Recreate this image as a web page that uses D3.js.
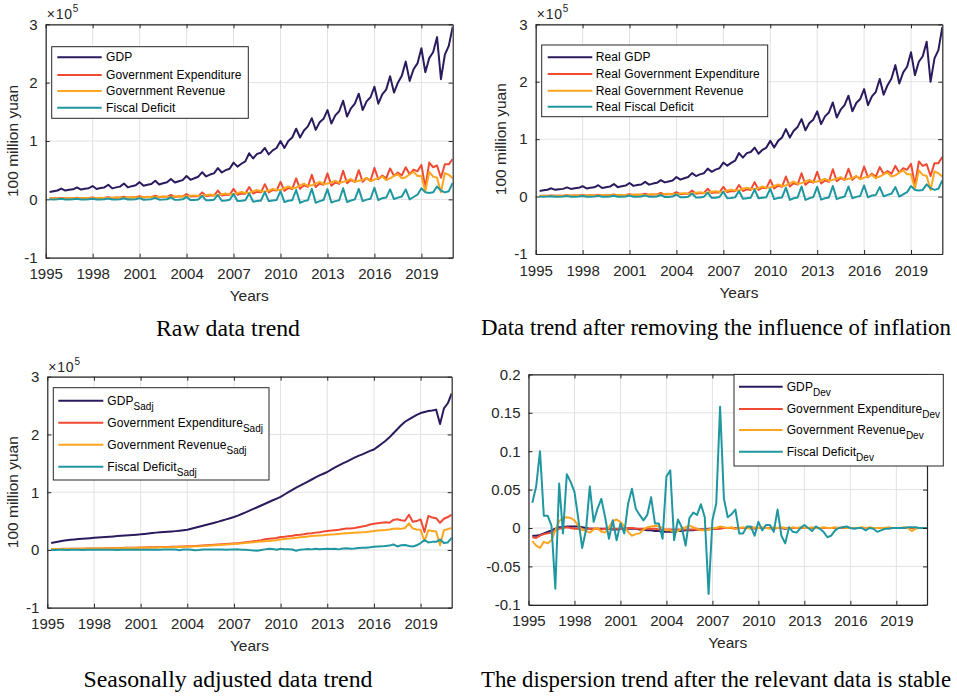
<!DOCTYPE html>
<html><head><meta charset="utf-8">
<script src="https://cdn.jsdelivr.net/npm/d3@7"></script>
<style>body{margin:0;background:#fff}svg{display:block}</style>
</head><body>
<svg id="c" width="957" height="698"></svg>
<script>
// ---------- tick labels / categories ----------
const yearTicks = [1995,1998,2001,2004,2007,2010,2013,2016,2019];
const levelTicks = [-1,0,1,2,3];
const devTicks = [-0.1,-0.05,0,0.05,0.1,0.15,0.2];
const baseNames = ['GDP','Government Expenditure','Government Revenue','Fiscal Deficit'];
const realNames = ['Real GDP','Real Government Expenditure','Real Government Revenue','Real Fiscal Deficit'];
const captions = ['Raw data trend','Data trend after removing the influence of inflation','Seasonally adjusted data trend','The dispersion trend after the relevant data is stable'];

// ---------- quarterly series 1995Q1 .. 2020Q4 (x10^5 100 million yuan) ----------
const rawGDP = [.125,.140,.152,.185, .150,.163,.172,.205, .168,.182,.192,.228, .178,.195,.205,.250, .188,.205,.218,.272, .205,.226,.240,.295, .232,.250,.263,.320, .254,.275,.292,.350, .290,.310,.330,.400, .335,.362,.388,.465, .392,.425,.445,.535, .460,.500,.525,.630, .560,.610,.650,.790, .700,.780,.800,.880, .770,.840,.880,1.000, .880,1.000,1.060,1.210, 1.060,1.180,1.250,1.390, 1.190,1.320,1.380,1.530, 1.300,1.440,1.510,1.690, 1.420,1.560,1.640,1.810, 1.530,1.680,1.750,1.930, 1.640,1.800,1.880,2.110, 1.830,2.000,2.120,2.360, 2.030,2.230,2.330,2.590, 2.180,2.420,2.520,2.780, 2.060,2.480,2.630,2.960];
const rawExp = [.016,.017,.017,.025, .018,.019,.020,.028, .020,.022,.023,.032, .021,.025,.026,.038, .024,.030,.030,.045, .028,.034,.035,.052, .032,.040,.040,.062, .037,.044,.044,.075, .041,.048,.049,.090, .047,.055,.055,.120, .055,.066,.065,.150, .065,.080,.078,.180, .080,.100,.095,.210, .100,.130,.120,.260, .120,.160,.150,.300, .145,.195,.175,.360, .180,.240,.215,.420, .210,.270,.250,.445, .235,.290,.265,.490, .275,.330,.300,.500, .300,.365,.320,.540, .345,.410,.360,.530, .405,.460,.410,.550, .430,.510,.480,.590, .200,.630,.550,.580, .370,.600,.600,.690];
const rawRev = [.016,.018,.016,.016, .019,.021,.018,.018, .022,.024,.021,.021, .024,.027,.023,.023, .027,.031,.027,.026, .032,.036,.032,.031, .038,.043,.037,.036, .043,.048,.042,.041, .050,.056,.048,.048, .060,.068,.058,.060, .072,.082,.070,.075, .088,.100,.085,.090, .110,.125,.110,.110, .140,.160,.140,.135, .150,.180,.160,.160, .190,.220,.190,.200, .240,.270,.230,.240, .270,.300,.260,.270, .290,.320,.280,.300, .320,.350,.300,.320, .330,.370,.310,.340, .360,.390,.330,.360, .400,.430,.360,.380, .430,.470,.400,.400, .140,.470,.390,.370, .120,.450,.420,.360];
const rawDef = [.000,-.001,.001,.009, -.001,-.002,.002,.010, -.002,-.002,.002,.011, -.003,-.002,.003,.015, -.003,-.001,.003,.019, -.004,-.002,.003,.021, -.006,-.003,.003,.026, -.006,-.004,.002,.034, -.009,-.008,.001,.042, -.013,-.013,-.003,.060, -.017,-.016,-.005,.075, -.023,-.020,-.007,.090, -.030,-.025,-.015,.100, -.040,-.030,-.020,.125, -.030,-.020,-.010,.140, -.045,-.025,-.015,.160, -.060,-.030,-.015,.180, -.060,-.030,-.010,.175, -.055,-.030,-.015,.190, -.045,-.020,.000,.180, -.030,-.005,.010,.200, -.015,.020,.030,.170, .005,.030,.050,.170, .000,.040,.080,.190, .120,.110,.120,.220, .150,.120,.140,.280];

const realGDP = [.098,.109,.119,.144, .117,.127,.134,.160, .133,.144,.152,.180, .141,.154,.162,.198, .150,.164,.174,.218, .164,.181,.192,.236, .186,.200,.210,.256, .208,.226,.239,.287, .247,.264,.281,.340, .295,.319,.341,.409, .357,.387,.405,.487, .432,.470,.494,.592, .538,.586,.624,.758, .679,.757,.776,.854, .747,.815,.854,.970, .854,.970,1.028,1.174, 1.028,1.145,1.213,1.348, 1.154,1.280,1.339,1.484, 1.261,1.397,1.465,1.639, 1.377,1.513,1.591,1.756, 1.484,1.630,1.698,1.872, 1.591,1.746,1.824,2.047, 1.775,1.940,2.056,2.289, 1.969,2.163,2.260,2.512, 2.115,2.347,2.444,2.697, 1.998,2.406,2.551,2.950];
const realExp = [.012,.013,.013,.020, .014,.015,.016,.022, .016,.017,.018,.025, .017,.020,.021,.030, .019,.024,.024,.036, .022,.027,.028,.042, .026,.032,.032,.050, .030,.036,.036,.062, .035,.041,.042,.077, .041,.048,.048,.106, .050,.060,.059,.137, .061,.075,.073,.169, .077,.096,.091,.202, .097,.126,.116,.252, .116,.155,.146,.291, .141,.189,.170,.349, .175,.233,.209,.407, .204,.262,.243,.432, .228,.281,.257,.475, .267,.320,.291,.485, .291,.354,.310,.524, .335,.398,.349,.514, .393,.446,.398,.534, .417,.495,.466,.572, .194,.611,.534,.563, .359,.582,.582,.690];
const realRev = [.012,.014,.012,.012, .015,.016,.014,.014, .017,.019,.017,.017, .019,.021,.018,.018, .022,.025,.022,.021, .026,.029,.026,.025, .030,.034,.030,.029, .035,.039,.034,.034, .043,.048,.041,.041, .053,.060,.051,.053, .066,.075,.064,.068, .083,.094,.080,.085, .106,.120,.106,.106, .136,.155,.136,.131, .146,.175,.155,.155, .184,.213,.184,.194, .233,.262,.223,.233, .262,.291,.252,.262, .281,.310,.272,.291, .310,.340,.291,.310, .320,.359,.301,.330, .349,.378,.320,.349, .388,.417,.349,.369, .417,.456,.388,.388, .136,.456,.378,.359, .116,.437,.407,.350];
const realDef = [.000,-.001,.001,.007, -.001,-.002,.002,.008, -.002,-.002,.002,.009, -.002,-.002,.002,.012, -.002,-.001,.002,.015, -.003,-.002,.002,.017, -.005,-.002,.002,.021, -.005,-.003,.002,.028, -.008,-.007,.001,.036, -.011,-.011,-.003,.053, -.015,-.015,-.005,.068, -.022,-.019,-.007,.085, -.029,-.024,-.014,.096, -.039,-.029,-.019,.121, -.029,-.019,-.010,.136, -.044,-.024,-.015,.155, -.058,-.029,-.015,.175, -.058,-.029,-.010,.170, -.053,-.029,-.015,.184, -.044,-.019,.000,.175, -.029,-.005,.010,.194, -.015,.019,.029,.165, .005,.029,.049,.165, .000,.039,.078,.184, .116,.107,.116,.213, .146,.116,.136,.280];

const sadjGDP = [.120,.135,.148,.160, .168,.175,.183,.190, .195,.199,.204,.210, .214,.219,.224,.230, .235,.240,.245,.250, .255,.260,.265,.270, .277,.285,.292,.300, .305,.310,.315,.320, .326,.333,.341,.350, .366,.383,.401,.420, .437,.454,.472,.490, .510,.530,.550,.570, .595,.622,.650,.680, .710,.740,.770,.800, .830,.860,.890,.920, .960,1.000,1.040,1.080, 1.115,1.150,1.185,1.220, 1.255,1.290,1.320,1.350, 1.390,1.430,1.465,1.500, 1.530,1.565,1.600,1.630, 1.655,1.685,1.715,1.740, 1.790,1.840,1.890,1.950, 2.020,2.090,2.160,2.220, 2.260,2.300,2.340,2.370, 2.390,2.405,2.415,2.430, 2.180,2.450,2.540,2.710];
const sadjExp = [.016,.017,.018,.019, .019,.020,.021,.022, .022,.023,.024,.025, .026,.027,.028,.030, .031,.032,.034,.036, .037,.038,.040,.042, .043,.045,.047,.048, .050,.052,.053,.055, .057,.058,.060,.062, .065,.068,.072,.076, .080,.084,.088,.093, .097,.101,.106,.112, .118,.125,.132,.140, .150,.158,.170,.185, .192,.200,.208,.225, .230,.238,.245,.258, .262,.272,.285,.290, .300,.308,.318,.330, .335,.342,.350,.362, .370,.372,.380,.392, .405,.420,.440,.455, .462,.470,.478,.470, .520,.530,.515,.505, .610,.490,.500,.530, .310,.590,.560,.550, .470,.540,.570,.610];
const sadjRev = [.015,.016,.016,.017, .018,.018,.019,.020, .021,.021,.022,.023, .024,.025,.026,.027, .028,.029,.031,.032, .033,.034,.036,.037, .039,.040,.042,.043, .045,.046,.047,.048, .050,.052,.054,.056, .060,.063,.066,.070, .074,.078,.082,.086, .090,.094,.098,.103, .108,.114,.120,.127, .135,.142,.146,.150, .155,.162,.170,.180, .188,.196,.203,.210, .218,.225,.232,.240, .245,.250,.255,.262, .268,.272,.278,.285, .290,.294,.298,.302, .306,.312,.320,.330, .336,.340,.345,.355, .368,.372,.365,.380, .460,.370,.355,.350, .150,.340,.330,.320, .080,.340,.360,.380];
const sadjDef = [.001,.001,.002,.002, .001,.002,.002,.002, .001,.002,.002,.002, .002,.002,.002,.003, .003,-.002,.003,.004, .004,.004,.004,.005, .004,.005,.005,.005, .005,.006,.006,.007, .007,-.004,.006,.006, .005,-.004,-.002,.006, .006,.006,.006,.007, .007,.002,.008,.008, .010,.005,.003,-.003, -.010,-.012,.000,.010, .020,.015,.005,.020, .012,.010,.008,-.015, .005,.010,.015,.010, .020,.012,.018,.020, .015,.020,.010,.025, .030,.020,.025,.035, .040,.040,.045,.055, .060,.062,.070,.075, .095,.060,.080,.085, .070,.060,.080,.120, .170,.130,.140,.140, .180,.120,.130,.210];

const devGDP = [-.010,-.010,-.009,-.007, -.005,-.003,-.001,.001, .001,.002,.002,.002, .002,.001,.000,-.001, -.001,-.001,-.001,-.001, -.001,-.002,-.002,-.001, -.001,-.001,-.001,-.001, -.002,-.002,-.003,-.003, -.004,-.004,-.005,-.005, -.005,-.005,-.004,-.004, -.003,-.003,-.003,-.002, -.002,-.002,-.001,-.001, -.001,.000,.000,.000, .000,.000,.000,.000, .000,.001,.000,.000, .000,.000,.000,.000, .000,.000,-.001,.000, .000,.000,.000,.000, .000,.000,.000,.000, .000,.000,.000,.000, .000,.000,.000,.000, .000,.000,.000,.000, .000,.000,.000,.000, .000,.000,.000,.000, .000,.000,.000,.000, .000,.000,.000,.000];
const devExp = [-.012,-.013,-.010,-.008, -.007,-.006,-.003,-.001, .000,.001,.000,-.001, -.001,-.002,-.002,-.001, -.001,-.001,-.002,-.001, -.001,-.001,-.001,-.001, -.001,.000,.000,-.001, -.001,-.001,-.001,-.001, -.001,-.002,-.002,-.002, -.002,-.002,-.002,-.002, -.002,-.002,-.002,-.002, -.002,-.002,-.002,-.001, -.001,-.001,.000,.000, .000,-.001,.000,.000, .000,.000,-.001,.000, .000,.000,.000,-.001, .000,.000,.000,.000, .000,.000,.000,.000, .000,.000,.000,.000, .000,.000,.000,.000, .000,.000,.000,.000, .000,.000,.000,.000, .000,.000,.000,.000, .000,.000,.000,.000, .000,.000,.000,.000, .000,.000,.000,.000];
const devRev = [-.017,-.023,-.026,-.018, -.020,-.016,-.003,.009, .013,.014,.013,.010, .003,-.002,-.004,-.006, -.002,.000,-.005,-.006, .001,.009,.011,.008, .002,-.005,-.010,-.008, -.007,-.002,.001,.002, .003,.002,.000,-.003, -.003,-.005,-.004,-.001, .001,.003,.001,-.001, -.003,-.003,-.002,.000, .000,.002,.001,.000, .001,-.001,.000,.001, .000,-.001,.001,.000, .001,.000,-.001,.001, .000,.001,.000,-.001, .001,.000,.001,.000, .000,.001,.000,.000, .001,.000,.000,.001, .000,.001,.000,.000, .000,.000,.001,.000, .001,.000,.000,.000, .000,.001,.000,.000, .000,.001,.000,-.004, -.001,.000,.000,.000];
const devDef = [.033,.054,.100,.016, .016,.003,-.079,.058, -.007,.070,.060,.047, .012,-.026,-.003,.054, .008,.025,.038,.014, -.014,.010,-.016,.006, -.007,.032,.051,.025, .017,.010,.017,.040, .006,.006,-.014,.067, .075,-.016,.011,.001, -.023,.013,.020,.017, .031,.014,-.086,.010, .032,.158,.038,.014, .018,.024,-.007,-.007, .002,.002,-.010,.008, -.003,.004,.004,-.005, .024,-.010,-.020,.001, -.005,-.006,.000,.004, .000,-.004,.002,-.001, -.005,-.012,-.010,-.003, .000,.001,.002,.000, -.001,.000,.000,-.003, .000,-.001,-.005,-.003, -.001,-.001,.000,.000, .000,.000,.001,.001, .001,.000,.000,.000];

// ---------- styling / layout ----------
const colors = ['#2b1b5e','#f04a32','#ffa51f','#1f97a1'];
const axisColor = '#262626';
const sansFont = "'Liberation Sans', Arial, Helvetica, sans-serif";
const serifFont = "'Liberation Serif', 'Times New Roman', serif";

const panels = [
  {data:[rawGDP,rawExp,rawRev,rawDef], names:baseNames, sub:null, ydom:[-1,3], yticks:levelTicks, level:true,
   x0:45.7, x1:452.7, y0:24.3, y1:257.7, ylabX:12.5,
   leg:{bx:51.7, by:46.7, bw:196.6, bh:71.6, lx0:57.3, lx1:101.7, tx:106, rows:[57.3,75,91,107.7]},
   cap:{x:228, y:336, w:144}},
  {data:[realGDP,realExp,realRev,realDef], names:realNames, sub:null, ydom:[-1,3], yticks:levelTicks, level:true,
   x0:535.7, x1:942.3, y0:24.3, y1:254, ylabX:500.8,
   leg:{bx:541.7, by:45, bw:226, bh:71.7, lx0:547.7, lx1:592.3, tx:595.7, rows:[57.3,74,90.7,106.7]},
   cap:{x:716, y:335, w:470}},
  {data:[sadjGDP,sadjExp,sadjRev,sadjDef], names:baseNames, sub:'Sadj', ydom:[-1,3], yticks:levelTicks, level:true,
   x0:47.3, x1:451.7, y0:376.7, y1:607.7, ylabX:12.5,
   leg:{bx:53.3, by:387.7, bw:215.7, bh:92.3, lx0:58.3, lx1:103.3, tx:107.3, rows:[400.7,422.7,444.7,466.7]},
   cap:{x:228, y:687, w:289}},
  {data:[devGDP,devExp,devRev,devDef], names:baseNames, sub:'Dev', ydom:[-0.1,0.2], yticks:devTicks, level:false,
   x0:528.5, x1:927, y0:374.4, y1:604.8, ylabX:null,
   leg:{bx:734, by:374.4, bw:209.3, bh:91.6, lx0:739, lx1:782.7, tx:786.7, rows:[386.7,409,430,451.7]},
   cap:{x:716, y:687, w:470}}
];

const svg = d3.select('#c');
const defs = svg.append('defs');

function styleAxis(sel){
  sel.select('.domain').attr('stroke', axisColor).attr('stroke-width', 1.2);
  sel.selectAll('.tick line').attr('stroke', axisColor).attr('stroke-width', 1);
  sel.selectAll('.tick text').attr('fill', axisColor).attr('font-size', 15).attr('font-family', sansFont);
}

panels.forEach((p, idx) => {
  const x = d3.scaleLinear().domain([1995, 2021]).range([p.x0, p.x1]);
  const y = d3.scaleLinear().domain(p.ydom).range([p.y1, p.y0]);
  const g = svg.append('g');

  // grid
  g.append('g').selectAll('line').data(yearTicks).join('line')
    .attr('x1', d => x(d)).attr('x2', d => x(d)).attr('y1', p.y0).attr('y2', p.y1)
    .attr('stroke', '#e2e2e2').attr('stroke-width', 1);
  g.append('g').selectAll('line').data(p.yticks).join('line')
    .attr('y1', d => y(d)).attr('y2', d => y(d)).attr('x1', p.x0).attr('x2', p.x1)
    .attr('stroke', '#e2e2e2').attr('stroke-width', 1);

  // series
  const cid = 'clip' + idx;
  defs.append('clipPath').attr('id', cid).append('rect')
    .attr('x', p.x0).attr('y', p.y0).attr('width', p.x1 - p.x0).attr('height', p.y1 - p.y0);
  const line = d3.line().x((d, i) => x(1995 + (i + 1) / 4)).y(d => y(d));
  p.data.forEach((s, k) => {
    g.append('path').datum(s).attr('d', line)
      .attr('fill', 'none').attr('stroke', colors[k]).attr('stroke-width', 2)
      .attr('stroke-linejoin', 'round').attr('clip-path', `url(#${cid})`);
  });

  // axes (MATLAB style: box, inward ticks)
  const fmt = d => String(d);
  g.append('g').attr('transform', `translate(0,${p.y1})`)
    .call(d3.axisBottom(x).tickValues(yearTicks).tickFormat(d3.format('d')).tickSizeInner(-4).tickSizeOuter(0).tickPadding(11))
    .call(styleAxis);
  g.append('g').attr('transform', `translate(0,${p.y0})`)
    .call(d3.axisTop(x).tickValues(yearTicks).tickFormat(() => '').tickSizeInner(-4).tickSizeOuter(0))
    .call(styleAxis);
  g.append('g').attr('transform', `translate(${p.x0},0)`)
    .call(d3.axisLeft(y).tickValues(p.yticks).tickFormat(fmt).tickSizeInner(-4).tickSizeOuter(0).tickPadding(8))
    .call(styleAxis);
  g.append('g').attr('transform', `translate(${p.x1},0)`)
    .call(d3.axisRight(y).tickValues(p.yticks).tickFormat(() => '').tickSizeInner(-4).tickSizeOuter(0))
    .call(styleAxis);

  // x label
  g.append('text').attr('x', (p.x0 + p.x1) / 2).attr('y', p.y1 + 43.5)
    .attr('text-anchor', 'middle').attr('font-family', sansFont).attr('font-size', 15.5)
    .attr('fill', axisColor).text('Years');

  if (p.level) {
    // y label
    g.append('text').attr('transform', `translate(${p.ylabX},${(p.y0 + p.y1) / 2}) rotate(-90)`)
      .attr('dy', '0.35em').attr('text-anchor', 'middle').attr('font-family', sansFont)
      .attr('font-size', 15.5).attr('fill', axisColor).text('100 million yuan');
    // exponent
    const ex = g.append('text').attr('x', p.x0 + 1).attr('y', p.y0 - 5)
      .attr('font-family', sansFont).attr('font-size', 14).attr('fill', axisColor)
      .attr('letter-spacing', 0.8);
    ex.append('tspan').text('\u00d710');
    ex.append('tspan').attr('font-size', 10).attr('dy', -7).text('5');
  }

  // legend
  const L = p.leg;
  const lg = g.append('g');
  lg.append('rect').attr('x', L.bx).attr('y', L.by).attr('width', L.bw).attr('height', L.bh)
    .attr('fill', '#fff').attr('stroke', axisColor).attr('stroke-width', 1);
  p.names.forEach((nm, k) => {
    lg.append('line').attr('x1', L.lx0).attr('x2', L.lx1).attr('y1', L.rows[k]).attr('y2', L.rows[k])
      .attr('stroke', colors[k]).attr('stroke-width', 2);
    const t = lg.append('text').attr('x', L.tx).attr('y', L.rows[k] + 4)
      .attr('font-family', sansFont).attr('font-size', 12).attr('letter-spacing', 0.1).attr('fill', '#000');
    t.append('tspan').text(nm);
    if (p.sub) t.append('tspan').attr('font-size', 10).attr('dy', 5).attr('letter-spacing', 0).text(p.sub);
  });

  // caption
  svg.append('text').attr('x', p.cap.x).attr('y', p.cap.y).attr('text-anchor', 'middle')
    .attr('font-family', serifFont).attr('font-size', 23).attr('fill', '#000')
    .attr('textLength', p.cap.w).attr('lengthAdjust', 'spacingAndGlyphs').text(captions[idx]);
});
</script>
</body></html>
